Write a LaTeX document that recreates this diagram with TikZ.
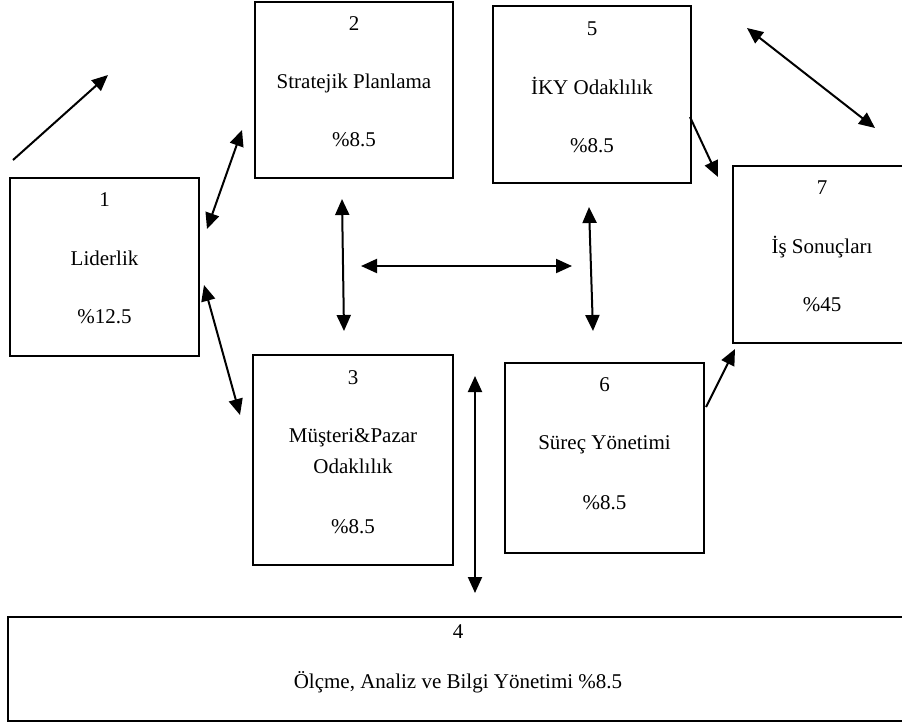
\documentclass[tikz,border=0pt]{standalone}
\usepackage{fontspec}
\setmainfont{Liberation Serif}
\usetikzlibrary{arrows.meta}
\begin{document}
\begin{tikzpicture}[x=1pt,y=-1pt,
  box/.style={draw, line width=2.3pt, rectangle, inner sep=0pt},
  txt/.style={anchor=base, inner sep=0pt, font=\fontsize{21}{25}\selectfont},
  conn/.style={line width=2pt, {Triangle[length=16pt,width=14pt]}-{Triangle[length=16pt,width=14pt]}},
  oneway/.style={line width=2pt, -{Triangle[length=16pt,width=14pt]}}]
\useasboundingbox (0,0) rectangle (902,724);
% boxes
\node[box, minimum width=189pt, minimum height=178pt] (b1) at (104.5,267) {};
\node[box, minimum width=198pt, minimum height=176pt] (b2) at (354,90) {};
\node[box, minimum width=198pt, minimum height=177pt] (b5) at (592,94.5) {};
\node[box, minimum width=178pt, minimum height=177pt] (b7) at (822,254.5) {};
\node[box, minimum width=200pt, minimum height=210pt] (b3) at (353,460) {};
\node[box, minimum width=199pt, minimum height=190pt] (b6) at (604.5,458) {};
\node[box, minimum width=900pt, minimum height=104pt] (b4) at (458,669) {};
% texts
\node[txt] (t1a) at (104.5,206) {1};
\node[txt] (t1b) at (104.5,265) {Liderlik};
\node[txt] (t1c) at (104.5,323) {\%12.5};
\node[txt] (t2a) at (354,30) {2};
\node[txt] (t2b) at (354,88) {Stratejik Planlama};
\node[txt] (t2c) at (354,146) {\%8.5};
\node[txt] (t5a) at (592,35) {5};
\node[txt] (t5b) at (592,94) {İKY Odaklılık};
\node[txt] (t5c) at (592,152) {\%8.5};
\node[txt] (t7a) at (822,194) {7};
\node[txt] (t7b) at (822,253) {İş Sonuçları};
\node[txt] (t7c) at (822,311) {\%45};
\node[txt] (t3a) at (353,384) {3};
\node[txt] (t3b) at (353,442) {Müşteri\&Pazar};
\node[txt] (t3c) at (353,473) {Odaklılık};
\node[txt] (t3d) at (353,533) {\%8.5};
\node[txt] (t6a) at (604.5,391) {6};
\node[txt] (t6b) at (604.5,449) {Süreç Yönetimi};
\node[txt] (t6c) at (604.5,509) {\%8.5};
\node[txt] (t4a) at (458,638) {4};
\node[txt] (t4b) at (458,688) {Ölçme, Analiz ve Bilgi Yönetimi \%8.5};
% arrow end points
\coordinate (f1) at (13,160);   \coordinate (f2) at (108,75);
\coordinate (p12a) at (207,229); \coordinate (p12b) at (242,130);
\coordinate (p13a) at (204,285); \coordinate (p13b) at (240,415);
\coordinate (p23a) at (342,199); \coordinate (p23b) at (344,331);
\coordinate (ph1) at (361,266);  \coordinate (ph2) at (572,266);
\coordinate (p56a) at (589,207); \coordinate (p56b) at (593,331);
\coordinate (p57a) at (690,117); \coordinate (p57b) at (718,177);
\coordinate (pr1) at (747,28);   \coordinate (pr2) at (875,128);
\coordinate (p67a) at (706,407); \coordinate (p67b) at (735,349);
\coordinate (p34a) at (475,376); \coordinate (p34b) at (475,593);
% arrows
\draw[oneway] (f1) -- (f2);
\draw[conn] (p12a) -- (p12b);
\draw[conn] (p13a) -- (p13b);
\draw[conn] (p23a) -- (p23b);
\draw[conn] (ph1) -- (ph2);
\draw[conn] (p56a) -- (p56b);
\draw[oneway] (p57a) -- (p57b);
\draw[conn] (pr1) -- (pr2);
\draw[oneway] (p67a) -- (p67b);
\draw[conn] (p34a) -- (p34b);
\end{tikzpicture}
\end{document}
